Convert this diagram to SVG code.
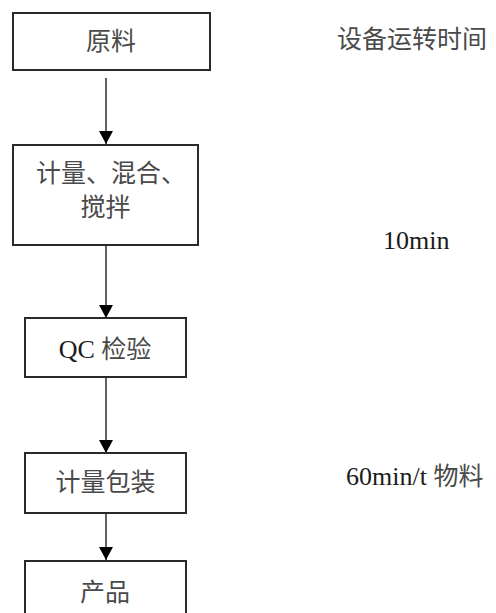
<svg xmlns="http://www.w3.org/2000/svg" width="496" height="613" viewBox="0 0 496 613">
  <style>
    .box { fill: #ffffff; stroke: #2a2a2a; stroke-width: 2; }
    .cjk { font-family: "Noto Sans CJK SC", "Liberation Serif", serif; font-size: 25px; fill: #4a4a4a; }
    .lat { font-family: "Liberation Serif", "Noto Sans CJK SC", serif; font-size: 26px; fill: #1a1a1a; }
    .conn { stroke: #3a3a3a; stroke-width: 1.6; fill: none; }
  </style>
  <defs>
    <marker id="arrow" markerUnits="userSpaceOnUse" markerWidth="14" markerHeight="14" refX="13" refY="7" orient="auto">
      <path d="M0,0 L13,7 L0,14 Z" fill="#000000"/>
    </marker>
  </defs>
  <rect width="496" height="613" fill="#ffffff"/>

  <g id="connectors">
    <line class="conn" x1="106" y1="78" x2="106" y2="144" marker-end="url(#arrow)"/>
    <line class="conn" x1="106" y1="245" x2="106" y2="318" marker-end="url(#arrow)"/>
    <line class="conn" x1="106" y1="377" x2="106" y2="453" marker-end="url(#arrow)"/>
    <line class="conn" x1="106" y1="513" x2="106" y2="560" marker-end="url(#arrow)"/>
  </g>

  <g id="node-raw">
    <rect class="box" x="13" y="13" width="197" height="57"/>
    <text class="cjk" x="111" y="50" text-anchor="middle">原料</text>
  </g>

  <g id="node-mix">
    <rect class="box" x="13" y="145" width="185" height="100"/>
    <text class="cjk" x="36" y="182">计量、混合、</text>
    <text class="cjk" x="105.5" y="216" text-anchor="middle">搅拌</text>
  </g>

  <g id="node-qc">
    <rect class="box" x="25" y="318" width="161" height="59"/>
    <text x="105" y="358" text-anchor="middle"><tspan class="lat">QC </tspan><tspan class="cjk">检验</tspan></text>
  </g>

  <g id="node-pack">
    <rect class="box" x="25" y="453" width="161" height="60"/>
    <text class="cjk" x="105.5" y="491" text-anchor="middle">计量包装</text>
  </g>

  <g id="node-product">
    <rect class="box" x="25" y="561" width="161" height="70"/>
    <text class="cjk" x="105" y="601" text-anchor="middle">产品</text>
  </g>

  <g id="labels">
    <text class="cjk" x="337" y="48">设备运转时间</text>
    <text class="lat" x="383" y="249">10min</text>
    <text x="346" y="485"><tspan class="lat">60min/t </tspan><tspan class="cjk">物料</tspan></text>
  </g>
</svg>
